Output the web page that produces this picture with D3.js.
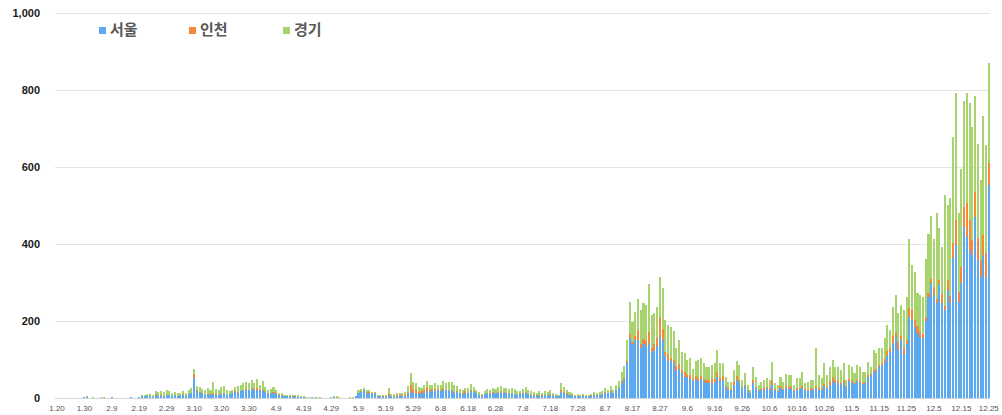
<!DOCTYPE html>
<html><head><meta charset="utf-8">
<script src="https://cdn.jsdelivr.net/npm/d3@7"></script>
<style>
html,body{margin:0;padding:0;background:#fff;}
svg{display:block;}
</style></head>
<body>
<svg id="chart" width="1002" height="415"></svg>
<script>
// ---- DATA (daily confirmed cases, 2020-01-20 .. 2020-12-25) ----
const seriesNames = ["서울", "인천", "경기"];
const seoul = [
 0,0,0,0,1,0,0,0,0,0,2,2,
 0,1,0,0,1,1,0,0,2,1,0,0,0,0,0,2,0,0,2,5,4,5,6,3,9,5,6,6,7,
 9,6,8,5,7,9,6,10,12,52,18,14,12,8,10,9,10,9,8,10,12,8,10,12,15,14,18,20,22,20,24,
 20,22,18,20,15,10,12,14,10,7,6,5,4,5,3,4,3,2,2,1,1,2,0,1,1,0,1,0,1,2,
 1,1,0,1,0,1,1,4,12,16,20,14,12,10,12,4,3,4,3,8,5,3,6,5,6,6,10,18,14,12,10,
 12,14,18,16,20,18,20,18,22,20,18,20,14,16,12,10,14,12,18,16,12,8,6,10,12,10,14,12,14,16,
 14,12,10,12,10,8,10,12,14,10,8,6,6,8,6,8,6,10,6,5,4,16,12,10,8,6,4,5,4,6,5,
 4,6,8,6,8,10,14,12,16,12,20,25,40,50,90,155,140,150,150,130,140,135,143,120,125,135,159,150,110,100,95,
 90,70,75,65,55,55,50,45,50,45,50,45,40,38,40,42,55,45,48,28,22,20,35,48,42,25,30,18,12,40,
 25,18,20,22,25,22,35,20,15,25,20,25,24,26,18,22,24,25,20,18,22,20,25,22,20,30,25,35,45,40,38,
 35,40,28,45,42,36,44,40,36,38,55,60,68,70,80,86,94,110,120,142,159,125,150,115,140,211,203,185,168,159,
 155,200,263,298,268,246,293,246,229,281,246,363,397,250,300,445,419,384,371,471,358,315,371,315,553
];
const incheon = [
 1,0,0,0,0,0,0,0,0,0,0,0,
 0,0,0,0,0,0,0,0,0,0,0,0,0,0,0,0,0,0,0,0,0,1,0,0,1,0,1,0,2,
 0,0,1,0,1,1,0,1,1,10,4,2,2,1,1,1,2,1,1,2,1,1,1,1,2,2,1,2,2,2,3,
 3,3,2,2,2,2,1,2,2,1,1,0,1,0,1,0,0,1,0,0,0,0,0,0,0,0,0,0,0,0,
 0,0,0,0,0,0,0,0,2,2,1,2,3,2,1,1,1,1,2,6,1,2,2,2,3,2,6,16,10,8,6,
 5,8,10,5,4,6,2,3,4,2,3,2,2,1,2,2,3,2,2,1,1,1,1,1,2,2,1,1,2,2,
 1,1,2,1,1,1,2,1,2,1,1,1,1,1,1,1,2,1,1,1,1,4,3,2,1,1,1,1,1,1,1,
 1,1,1,1,1,1,2,2,2,1,2,3,3,3,5,10,6,12,26,10,14,12,29,10,14,20,52,30,10,14,10,
 10,12,14,8,12,6,10,5,8,6,6,5,8,6,10,8,12,6,10,4,3,3,6,10,6,4,5,2,2,6,
 4,2,3,5,4,3,8,3,2,5,3,6,4,5,2,4,3,5,3,4,3,4,6,4,3,6,4,8,10,6,5,
 4,6,3,5,4,3,4,4,2,3,4,3,4,6,5,5,8,12,10,20,13,20,12,15,10,22,25,18,20,12,
 10,10,10,12,20,10,14,25,10,25,20,39,65,25,40,52,87,78,40,65,58,43,52,61,57
];
const gyeonggi = [
 0,0,0,0,0,0,1,1,0,0,1,2,
 1,1,0,1,2,2,0,0,0,0,0,0,0,0,0,0,0,0,1,2,3,4,5,5,8,10,12,10,12,
 10,8,6,7,6,7,8,9,12,14,10,12,10,12,14,12,30,14,12,16,17,12,8,9,12,14,14,18,18,16,20,
 16,24,14,22,12,8,10,12,8,6,5,4,3,4,3,3,4,2,2,2,1,1,2,1,1,1,0,1,1,2,
 3,2,1,0,1,1,1,2,6,6,4,6,5,3,3,2,3,3,2,13,4,6,5,6,5,8,16,32,18,18,12,
 10,12,16,14,10,16,12,14,18,16,20,20,18,14,10,8,10,12,16,12,8,6,4,8,10,10,12,10,12,14,
 12,14,12,14,12,8,6,10,12,10,10,8,6,8,6,10,8,10,6,5,4,18,14,10,6,5,4,4,4,3,3,
 2,4,6,5,6,8,10,8,12,8,12,15,25,30,55,85,52,62,81,89,92,95,124,86,82,82,104,105,83,76,80,
 75,47,62,47,50,38,44,25,37,48,49,40,33,37,36,40,58,39,34,23,17,19,32,39,38,18,29,14,7,35,
 26,14,19,20,22,23,51,15,17,25,19,31,32,29,14,25,24,38,15,20,22,23,98,34,28,54,31,38,44,35,38,
 35,44,16,36,35,25,38,37,30,27,35,18,53,40,44,38,53,68,47,75,96,75,80,99,113,179,117,125,84,97,
 98,150,152,163,124,224,134,122,288,195,253,275,331,206,254,275,287,305,292,248,243,208,309,281,261
];
const tickLabels = ["1.20","1.30","2.9","2.19","2.29","3.10","3.20","3.30","4.9","4.19","4.29",
 "5.9","5.19","5.29","6.8","6.18","6.28","7.8","7.18","7.28","8.7","8.17","8.27",
 "9.6","9.16","9.26","10.6","10.16","10.26","11.5","11.15","11.25","12.5","12.15","12.25"];
const yTicks = [0, 200, 400, 600, 800, 1000];
const colors = ["#5DA9F0", "#F5883A", "#A8D46F"];

// ---- categories (dates) ----
const days = d3.timeDay.range(new Date(2020, 0, 20), new Date(2020, 11, 26));
const fmt = d3.timeFormat("%-m.%-d");
const categories = days.map(fmt);
const rows = categories.map((c, i) => ({cat: c, s0: seoul[i], s1: incheon[i], s2: gyeonggi[i]}));

const svg = d3.select("#chart");
const x = d3.scaleBand().domain(categories).range([56, 989.8]).paddingInner(0.25).paddingOuter(0);
const y = d3.scaleLinear().domain([0, 1000]).range([398, 13]);

// gridlines
svg.append("g").selectAll("line").data(yTicks).join("line")
  .attr("x1", 55).attr("x2", 990)
  .attr("y1", d => Math.round(y(d)) + 0.5).attr("y2", d => Math.round(y(d)) + 0.5)
  .attr("stroke", d => d === 0 ? "#d4d4d4" : "#e3e3e3").attr("stroke-width", 1);

// y labels
const yAxis = d3.axisLeft(y).tickValues(yTicks).tickFormat(d3.format(",")).tickSize(0).tickPadding(0);
const gy = svg.append("g").attr("transform", "translate(40,0)").call(yAxis);
gy.select(".domain").remove();
gy.selectAll("text").attr("font-family", "Liberation Sans, Arial, sans-serif")
  .attr("font-size", 11).attr("font-weight", "bold").attr("fill", "#1a1a1a");

// stacked bars
const stack = d3.stack().keys(["s0", "s1", "s2"]);
const layers = stack(rows);
svg.append("g").attr("shape-rendering", "crispEdges")
  .selectAll("g").data(layers).join("g").attr("fill", (d, i) => colors[i])
  .selectAll("rect").data(d => d).join("rect")
  .attr("x", d => x(d.data.cat))
  .attr("width", x.bandwidth())
  .attr("y", d => y(d[1]))
  .attr("height", d => Math.max(0, y(d[0]) - y(d[1])));

// x labels
const xAxis = d3.axisBottom(x).tickValues(tickLabels).tickSize(0).tickPadding(0);
const gx = svg.append("g").attr("transform", "translate(0,405)").call(xAxis);
gx.select(".domain").remove();
gx.selectAll("text").attr("font-family", "Liberation Sans, Arial, sans-serif")
  .attr("font-size", 8).attr("fill", "#555").attr("dy", "0.71em");

// legend
const legendX = [99, 189, 283];
const lg = svg.append("g").selectAll("g").data(seriesNames).join("g")
  .attr("transform", (d, i) => `translate(${legendX[i]},27)`);
lg.append("rect").attr("width", 7).attr("height", 7).attr("fill", (d, i) => colors[i]);
lg.append("text").attr("x", 11).attr("y", 8).text(d => d)
  .attr("font-family", "Noto Sans CJK KR, sans-serif").attr("font-size", 15)
  .attr("font-weight", "bold").attr("fill", "#595959");
</script>
</body></html>
